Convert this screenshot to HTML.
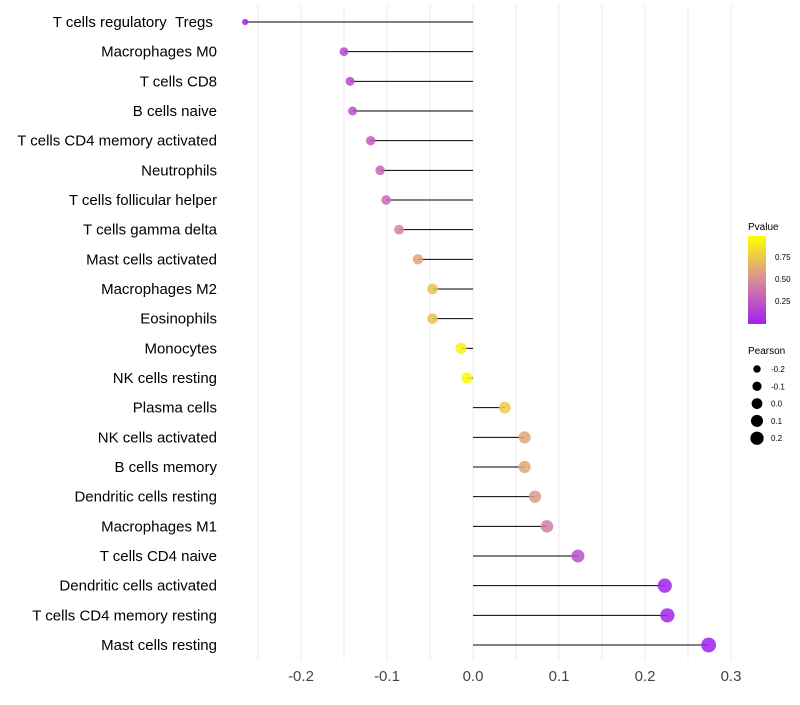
<!DOCTYPE html>
<html><head><meta charset="utf-8"><style>
body{margin:0;background:#fff;font-family:"Liberation Sans",sans-serif}
</style></head><body>
<svg id="chart" width="800" height="700" xmlns="http://www.w3.org/2000/svg" font-family="Liberation Sans, sans-serif">
<defs><linearGradient id="pg" x1="0" y1="1" x2="0" y2="0">
<stop offset="0" stop-color="#a020f0"/><stop offset="0.5" stop-color="#d88c9a"/><stop offset="1" stop-color="#ffff00"/></linearGradient></defs>
<g id="grid"></g><g id="marks"></g><g id="labels"></g>
<g>
<text x="748" y="230" font-size="10">Pvalue</text>
<rect x="748" y="236" width="18" height="88" fill="url(#pg)"/>
<text x="775" y="260" font-size="8">0.75</text>
<text x="775" y="282" font-size="8">0.50</text>
<text x="775" y="304" font-size="8">0.25</text>
</g>
<g id="sizeleg">
<text x="748" y="354" font-size="10">Pearson</text>
</g>
</svg>
<script>
const cells=["T cells regulatory\u00a0\u00a0Tregs\u00a0","Macrophages M0","T cells CD8","B cells naive","T cells CD4 memory activated","Neutrophils","T cells follicular helper","T cells gamma delta","Mast cells activated","Macrophages M2","Eosinophils","Monocytes","NK cells resting","Plasma cells","NK cells activated","B cells memory","Dendritic cells resting","Macrophages M1","T cells CD4 naive","Dendritic cells activated","T cells CD4 memory resting","Mast cells resting"];
const pearson=[-0.265,-0.150,-0.143,-0.140,-0.119,-0.108,-0.101,-0.086,-0.064,-0.047,-0.047,-0.014,-0.007,0.037,0.060,0.060,0.072,0.086,0.122,0.223,0.226,0.274];
const pvalue=[0.02,0.18,0.2,0.22,0.28,0.32,0.35,0.45,0.6,0.72,0.72,0.94,0.98,0.78,0.62,0.62,0.55,0.42,0.22,0.02,0.02,0.002];
const ticks=[-0.2,-0.1,0.0,0.1,0.2,0.3];
const tickLabels=["-0.2","-0.1","0.0","0.1","0.2","0.3"];
const sizeLeg=[-0.2,-0.1,0.0,0.1,0.2];
const NS="http://www.w3.org/2000/svg";
const x=v=>473+v*860;
const y=i=>22+i*(623/21);
const r=v=>Math.sqrt(Math.max(4,32+84*v));
function mix(a,b,t){return a.map((c,i)=>Math.round(c+(b[i]-c)*t));}
function col(p){const A=[160,32,240],M=[216,140,154],B=[255,255,0];
 const c=p<0.5?mix(A,M,p/0.5):mix(M,B,(p-0.5)/0.5);return `rgb(${c})`;}
function el(t,a,parent){const e=document.createElementNS(NS,t);for(const k in a)e.setAttribute(k,a[k]);parent.appendChild(e);return e;}
const grid=document.getElementById('grid'),marks=document.getElementById('marks'),labels=document.getElementById('labels');
for(let v=-0.25;v<=0.3001;v+=0.05){const g=el('line',{x1:x(v),x2:x(v),y1:5,y2:660,stroke:'#ebebeb','stroke-width':1},grid);

}
ticks.forEach((t,i)=>{const e=el('text',{x:x(t),y:681,'font-size':15,'text-anchor':'middle',fill:'#444'},labels);e.textContent=tickLabels[i];

});
cells.forEach((c,i)=>{
 const t=el('text',{x:217,y:y(i)+5,'font-size':15,'text-anchor':'end',fill:'#000'},labels);t.textContent=c;
 
 
 const l=el('line',{x1:x(0),x2:x(pearson[i]),y1:y(i),y2:y(i),stroke:'#000','stroke-width':1},marks);
 
 
 const d=el('circle',{cx:x(pearson[i]),cy:y(i),r:r(pearson[i]),fill:col(pvalue[i]),'fill-opacity':0.85},marks);
 
 
});
const sl=document.getElementById('sizeleg');
sizeLeg.forEach((v,i)=>{const cy=369+i*17.3;
 const d=el('circle',{cx:757,cy:cy,r:r(v)*0.95,fill:'#000'},sl);
 
 
 const t=el('text',{x:771,y:cy+3,'font-size':8},sl);t.textContent=v.toFixed(1);
 
 });
</script>
</body></html>
